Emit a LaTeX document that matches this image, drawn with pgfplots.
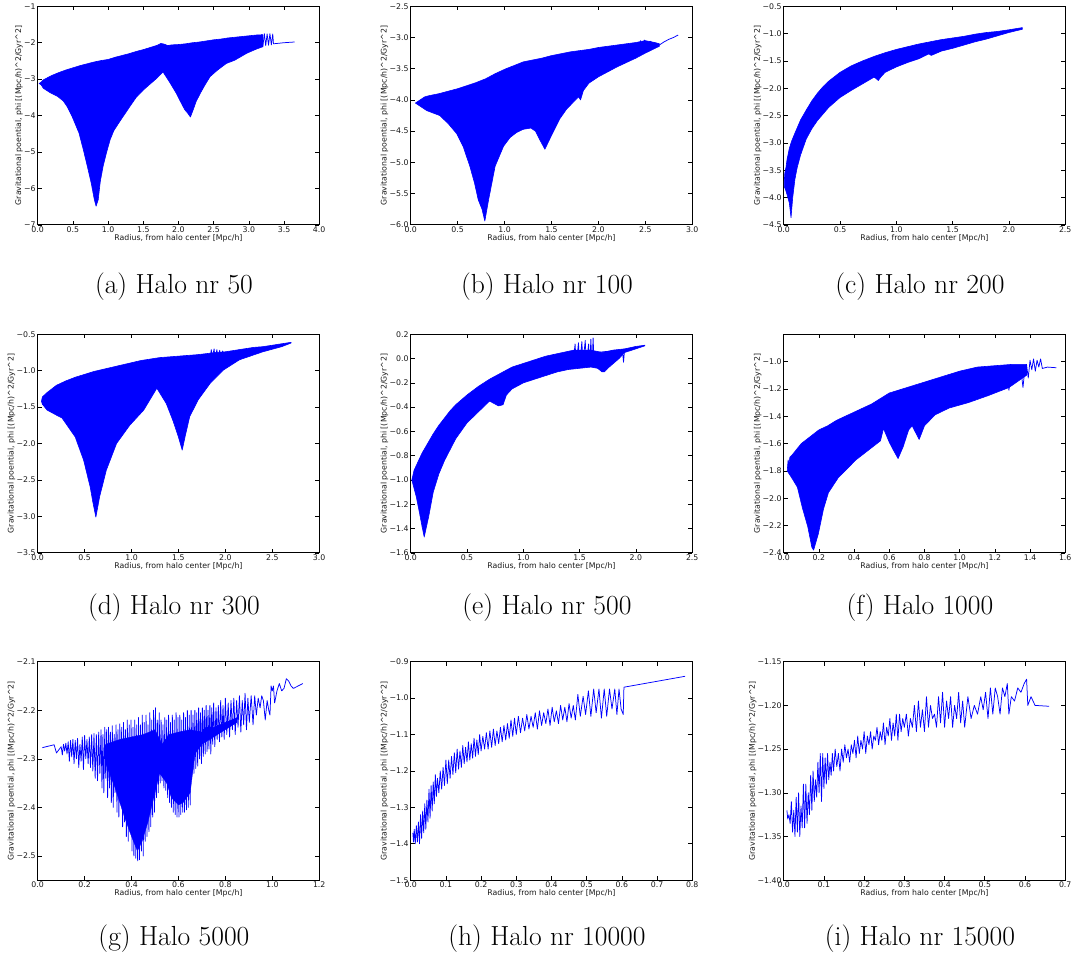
\documentclass[border=0pt]{standalone}
\usepackage{fontspec}
\usepackage{pgfplots}
\pgfplotsset{compat=1.18}
\newfontfamily\tickfont{DejaVu Sans}
\definecolor{mblue}{RGB}{0,0,255}
\pgfplotsset{
  mpl/.style={
    scale only axis, width=281.5pt, height=218.5pt,
    anchor=north west,
    axis line style={black, line width=0.8pt},
    tick align=inside, major tick length=4pt,
    every tick/.style={black, line width=0.6pt},
    ticklabel style={font=\tickfont\fontsize{7.8}{9}\selectfont, text=black!90},
    label style={font=\tickfont\fontsize{7.8}{9}\selectfont, text=black!90},
    xticklabel style={inner sep=1.5pt},
    yticklabel style={inner sep=2pt},
    xlabel={Radius, from halo center [Mpc/h]},
    ylabel={Gravitational poential, phi [(Mpc/h)\textasciicircum 2/Gyr\textasciicircum 2]},
    xlabel style={inner sep=0pt, yshift=0pt},
    ylabel style={inner sep=0pt, yshift=-1pt},
    clip=true,
  },
  fillband/.style={draw=mblue, fill=mblue, line width=0.6pt, line join=round},
  zig/.style={draw=mblue, line width=0.75pt, line join=round, no marks},
}
\newcommand{\capfont}{\fontsize{27.6}{33}\selectfont}
\begin{document}
\begin{tikzpicture}
\path[use as bounding box] (0pt,0pt) rectangle (1075pt,-960pt);

% ---------------- (a)
\begin{axis}[mpl, name=pa, at={(37.7pt,-6.3pt)},
  xmin=0, xmax=4, ymin=-7, ymax=-1,
  xtick={0,0.5,1,1.5,2,2.5,3,3.5,4}, xticklabels={0.0,0.5,1.0,1.5,2.0,2.5,3.0,3.5,4.0},
  ytick={-7,-6,-5,-4,-3,-2,-1}, yticklabels={−7,−6,−5,−4,−3,−2,−1}]
\addplot[fillband] coordinates {
(0.02,-3.12) (0.05,-3.08) (0.08,-3.02) (0.1,-3.0) (0.13,-2.97) (0.15,-2.95) (0.2,-2.9) (0.3,-2.82) (0.4,-2.75) (0.5,-2.69) (0.6,-2.63) (0.7,-2.58) (0.8,-2.53) (0.9,-2.49) (1.0,-2.46) (1.1,-2.4) (1.2,-2.35) (1.3,-2.3) (1.4,-2.24) (1.5,-2.19) (1.6,-2.13) (1.7,-2.07) (1.75,-2.02) (1.8,-2.04) (1.85,-2.08) (1.9,-2.06) (2.0,-2.05) (2.1,-2.03) (2.2,-2.0) (2.3,-1.98) (2.4,-1.95) (2.5,-1.92) (2.6,-1.9) (2.7,-1.87) (2.8,-1.85) (2.9,-1.83) (3.0,-1.81) (3.1,-1.79) (3.2,-1.78)
(3.2,-2.11) (3.1,-2.18) (2.97,-2.29) (2.8,-2.48) (2.68,-2.57) (2.55,-2.76) (2.45,-2.93) (2.38,-3.15) (2.31,-3.39) (2.25,-3.62) (2.21,-3.84) (2.17,-4.04) (2.13,-3.93) (2.09,-3.84) (2.03,-3.62) (1.97,-3.39) (1.88,-3.1) (1.78,-2.8) (1.69,-2.98) (1.6,-3.13) (1.5,-3.3) (1.4,-3.5) (1.31,-3.75) (1.23,-3.98) (1.15,-4.21) (1.08,-4.42) (1.03,-4.66) (0.98,-5.0) (0.93,-5.39) (0.89,-5.8) (0.86,-6.31) (0.83,-6.49) (0.805,-6.31) (0.76,-5.85) (0.705,-5.39) (0.65,-4.95) (0.587,-4.48) (0.49,-4.03) (0.42,-3.76) (0.364,-3.6) (0.28,-3.47) (0.175,-3.37) (0.08,-3.25) (0.05,-3.16) (0.02,-3.12)
} -- cycle;
\addplot[zig] coordinates {(3.15,-2.13) (3.18,-1.78) (3.2,-2.1) (3.22,-1.75) (3.24,-2.08) (3.26,-1.76) (3.28,-2.07) (3.30,-1.75) (3.32,-2.06) (3.34,-1.76) (3.35,-2.03) (3.4,-2.02) (3.5,-2.0) (3.65,-1.98)};
\end{axis}

% ---------------- (b)
\begin{axis}[mpl, name=pb, at={(410.7pt,-6.3pt)},
  xmin=0, xmax=3, ymin=-6, ymax=-2.5,
  xtick={0,0.5,1,1.5,2,2.5,3}, xticklabels={0.0,0.5,1.0,1.5,2.0,2.5,3.0},
  ytick={-6,-5.5,-5,-4.5,-4,-3.5,-3,-2.5}, yticklabels={−6.0,−5.5,−5.0,−4.5,−4.0,−3.5,−3.0,−2.5}]
\addplot[fillband] coordinates {
(0.05,-4.05) (0.1,-4.0) (0.15,-3.95) (0.2,-3.93) (0.3,-3.9) (0.4,-3.86) (0.5,-3.82) (0.6,-3.77) (0.7,-3.72) (0.8,-3.66) (0.9,-3.58) (1.0,-3.51) (1.1,-3.45) (1.2,-3.39) (1.3,-3.36) (1.4,-3.33) (1.5,-3.29) (1.6,-3.26) (1.7,-3.23) (1.8,-3.21) (1.9,-3.19) (2.0,-3.16) (2.1,-3.14) (2.2,-3.12) (2.3,-3.1) (2.4,-3.08) (2.5,-3.05) (2.6,-3.08) (2.65,-3.1)
(2.65,-3.14) (2.5,-3.25) (2.4,-3.33) (2.2,-3.47) (2.0,-3.63) (1.9,-3.73) (1.84,-3.85) (1.81,-4.0) (1.79,-3.95) (1.73,-4.04) (1.66,-4.15) (1.59,-4.3) (1.5,-4.57) (1.43,-4.79) (1.38,-4.65) (1.33,-4.5) (1.28,-4.45) (1.2,-4.47) (1.13,-4.52) (1.06,-4.6) (0.99,-4.74) (0.9,-5.06) (0.83,-5.6) (0.79,-5.94) (0.76,-5.75) (0.72,-5.6) (0.68,-5.33) (0.63,-5.06) (0.56,-4.75) (0.49,-4.54) (0.4,-4.38) (0.31,-4.25) (0.17,-4.17) (0.1,-4.1) (0.05,-4.05)
} -- cycle;
\addplot[zig] coordinates {(2.44,-3.2) (2.45,-3.05) (2.47,-3.22) (2.49,-3.04) (2.52,-3.2) (2.55,-3.06) (2.6,-3.1) (2.65,-3.12) (2.7,-3.07) (2.75,-3.03) (2.8,-3.0) (2.85,-2.96)};
\end{axis}

% ---------------- (c)
\begin{axis}[mpl, name=pc, at={(783.7pt,-6.3pt)},
  xmin=0, xmax=2.5, ymin=-4.5, ymax=-0.5,
  xtick={0,0.5,1,1.5,2,2.5}, xticklabels={0.0,0.5,1.0,1.5,2.0,2.5},
  ytick={-4.5,-4,-3.5,-3,-2.5,-2,-1.5,-1,-0.5}, yticklabels={−4.5,−4.0,−3.5,−3.0,−2.5,−2.0,−1.5,−1.0,−0.5}]
\addplot[fillband] coordinates {
(0.005,-3.7) (0.01,-3.55) (0.02,-3.45) (0.03,-3.3) (0.05,-3.1) (0.07,-2.97) (0.1,-2.82) (0.15,-2.58) (0.2,-2.4) (0.25,-2.23) (0.3,-2.09) (0.35,-1.97) (0.4,-1.87) (0.5,-1.71) (0.6,-1.59) (0.7,-1.5) (0.8,-1.42) (0.9,-1.35) (1.0,-1.29) (1.1,-1.24) (1.2,-1.19) (1.3,-1.15) (1.4,-1.11) (1.5,-1.08) (1.6,-1.05) (1.7,-1.01) (1.8,-0.98) (1.9,-0.96) (2.0,-0.93) (2.12,-0.89)
(2.12,-0.92) (2.0,-0.98) (1.9,-1.04) (1.8,-1.1) (1.7,-1.15) (1.6,-1.21) (1.5,-1.27) (1.4,-1.32) (1.31,-1.4) (1.29,-1.37) (1.2,-1.46) (1.1,-1.53) (1.0,-1.61) (0.9,-1.71) (0.86,-1.8) (0.84,-1.86) (0.82,-1.82) (0.8,-1.8) (0.7,-1.92) (0.6,-2.04) (0.5,-2.17) (0.4,-2.35) (0.3,-2.59) (0.25,-2.74) (0.2,-2.93) (0.15,-3.22) (0.12,-3.45) (0.1,-3.66) (0.08,-4.0) (0.065,-4.37) (0.05,-4.1) (0.03,-3.95) (0.015,-3.85) (0.005,-3.8)
} -- cycle;
\end{axis}

% ---------------- (d)
\begin{axis}[mpl, name=pd, at={(37.7pt,-334.3pt)},
  xmin=0, xmax=3, ymin=-3.5, ymax=-0.5,
  xtick={0,0.5,1,1.5,2,2.5,3}, xticklabels={0.0,0.5,1.0,1.5,2.0,2.5,3.0},
  ytick={-3.5,-3,-2.5,-2,-1.5,-1,-0.5}, yticklabels={−3.5,−3.0,−2.5,−2.0,−1.5,−1.0,−0.5}]
\addplot[fillband] coordinates {
(0.04,-1.42) (0.05,-1.36) (0.1,-1.3) (0.15,-1.25) (0.2,-1.2) (0.3,-1.14) (0.4,-1.09) (0.5,-1.05) (0.6,-1.01) (0.7,-0.98) (0.8,-0.95) (0.9,-0.92) (1.0,-0.89) (1.1,-0.86) (1.2,-0.84) (1.3,-0.82) (1.4,-0.81) (1.5,-0.8) (1.6,-0.79) (1.7,-0.78) (1.8,-0.765) (1.9,-0.75) (2.0,-0.74) (2.1,-0.72) (2.2,-0.7) (2.3,-0.68) (2.4,-0.67) (2.5,-0.65) (2.6,-0.63) (2.7,-0.61)
(2.7,-0.62) (2.6,-0.67) (2.4,-0.74) (2.15,-0.85) (1.98,-0.99) (1.84,-1.17) (1.71,-1.4) (1.62,-1.63) (1.57,-1.91) (1.54,-2.09) (1.5,-1.91) (1.44,-1.68) (1.37,-1.45) (1.27,-1.24) (1.2,-1.39) (1.13,-1.54) (0.98,-1.75) (0.84,-2.0) (0.73,-2.37) (0.66,-2.73) (0.62,-3.01) (0.59,-2.82) (0.56,-2.6) (0.49,-2.23) (0.4,-1.91) (0.26,-1.65) (0.2,-1.61) (0.1,-1.54) (0.05,-1.46) (0.04,-1.42)
} -- cycle;
\addplot[zig] coordinates {(1.84,-0.8) (1.85,-0.71) (1.86,-0.82) (1.88,-0.7) (1.89,-0.83) (1.91,-0.71) (1.92,-0.82) (1.94,-0.72) (1.95,-0.83) (1.97,-0.73) (1.99,-0.8)};
\end{axis}

% ---------------- (e)
\begin{axis}[mpl, name=pe, at={(410.7pt,-334.3pt)},
  xmin=0, xmax=2.5, ymin=-1.6, ymax=0.2,
  xtick={0,0.5,1,1.5,2,2.5}, xticklabels={0.0,0.5,1.0,1.5,2.0,2.5},
  ytick={-1.6,-1.4,-1.2,-1,-0.8,-0.6,-0.4,-0.2,0,0.2}, yticklabels={−1.6,−1.4,−1.2,−1.0,−0.8,−0.6,−0.4,−0.2,0.0,0.2}]
\addplot[fillband] coordinates {
(0.01,-1.0) (0.02,-0.96) (0.03,-0.92) (0.05,-0.88) (0.08,-0.82) (0.1,-0.78) (0.15,-0.7) (0.2,-0.62) (0.25,-0.55) (0.3,-0.49) (0.35,-0.43) (0.4,-0.38) (0.5,-0.3) (0.6,-0.23) (0.7,-0.17) (0.8,-0.12) (0.9,-0.07) (1.0,-0.04) (1.1,-0.01) (1.2,0.02) (1.3,0.04) (1.4,0.06) (1.45,0.07) (1.5,0.07) (1.55,0.07) (1.6,0.07) (1.65,0.06) (1.7,0.05) (1.8,0.07) (1.9,0.08) (2.0,0.1) (2.08,0.11)
(2.08,0.105) (2.0,0.08) (1.9,0.05) (1.85,0.0) (1.8,-0.04) (1.75,-0.08) (1.72,-0.11) (1.7,-0.11) (1.66,-0.08) (1.6,-0.07) (1.5,-0.08) (1.4,-0.09) (1.3,-0.11) (1.2,-0.14) (1.1,-0.17) (1.0,-0.2) (0.9,-0.25) (0.85,-0.3) (0.82,-0.38) (0.78,-0.39) (0.74,-0.37) (0.7,-0.35) (0.6,-0.44) (0.5,-0.53) (0.4,-0.66) (0.3,-0.84) (0.25,-0.95) (0.2,-1.1) (0.16,-1.3) (0.12,-1.47) (0.1,-1.38) (0.08,-1.28) (0.05,-1.14) (0.03,-1.07) (0.01,-1.0)
} -- cycle;
\addplot[zig] coordinates {(1.44,-0.05) (1.46,0.12) (1.47,-0.05) (1.49,0.13) (1.5,-0.06) (1.52,0.14) (1.53,-0.04) (1.55,0.15) (1.56,-0.05) (1.58,0.12) (1.59,-0.06) (1.6,0.16) (1.61,-0.06) (1.62,0.17) (1.63,-0.07) (1.64,0.05) (1.88,0.07) (1.89,-0.03) (1.9,0.08)};
\end{axis}

% ---------------- (f)
\begin{axis}[mpl, name=pf, at={(783.7pt,-334.3pt)},
  xmin=0, xmax=1.6, ymin=-2.4, ymax=-0.8,
  xtick={0,0.2,0.4,0.6,0.8,1,1.2,1.4,1.6}, xticklabels={0.0,0.2,0.4,0.6,0.8,1.0,1.2,1.4,1.6},
  ytick={-2.4,-2.2,-2,-1.8,-1.6,-1.4,-1.2,-1}, yticklabels={−2.4,−2.2,−2.0,−1.8,−1.6,−1.4,−1.2,−1.0}]
\addplot[fillband] coordinates {
(0.02,-1.8) (0.025,-1.72) (0.03,-1.75) (0.035,-1.7) (0.05,-1.68) (0.1,-1.6) (0.15,-1.55) (0.2,-1.5) (0.25,-1.47) (0.3,-1.43) (0.35,-1.4) (0.4,-1.37) (0.45,-1.34) (0.5,-1.31) (0.55,-1.27) (0.6,-1.23) (0.65,-1.21) (0.7,-1.19) (0.8,-1.15) (0.9,-1.11) (1.0,-1.07) (1.1,-1.04) (1.2,-1.03) (1.3,-1.02) (1.38,-1.02)
(1.38,-1.1) (1.28,-1.19) (1.16,-1.25) (1.05,-1.3) (0.94,-1.34) (0.86,-1.39) (0.8,-1.47) (0.77,-1.57) (0.75,-1.52) (0.73,-1.47) (0.71,-1.5) (0.68,-1.62) (0.65,-1.71) (0.62,-1.64) (0.6,-1.59) (0.567,-1.49) (0.55,-1.58) (0.5,-1.63) (0.41,-1.72) (0.31,-1.85) (0.254,-1.96) (0.226,-2.08) (0.197,-2.26) (0.17,-2.38) (0.16,-2.36) (0.137,-2.21) (0.106,-2.07) (0.078,-1.92) (0.05,-1.86) (0.03,-1.82) (0.02,-1.8)
} -- cycle;
\addplot[zig] coordinates {(1.19,-1.1) (1.2,-1.22) (1.21,-1.12) (1.27,-1.1) (1.28,-1.21) (1.29,-1.1) (1.35,-1.08) (1.36,-1.19) (1.37,-1.06) (1.38,-1.02) (1.39,-1.12) (1.4,-0.99) (1.41,-1.06) (1.42,-0.98) (1.43,-1.07) (1.44,-0.99) (1.45,-1.04) (1.46,-0.98) (1.47,-1.05) (1.5,-1.04) (1.55,-1.045)};
\end{axis}

% ---------------- (g)
\begin{axis}[mpl, name=pg, at={(37.7pt,-661.7pt)},
  xmin=0, xmax=1.2, ymin=-2.55, ymax=-2.1,
  xtick={0,0.2,0.4,0.6,0.8,1,1.2}, xticklabels={0.0,0.2,0.4,0.6,0.8,1.0,1.2},
  ytick={-2.5,-2.4,-2.3,-2.2,-2.1}, yticklabels={−2.5,−2.4,−2.3,−2.2,−2.1}]
\addplot[fillband, line width=0.3pt] coordinates {
(0.29,-2.27) (0.35,-2.26) (0.4,-2.255) (0.45,-2.25) (0.5,-2.24) (0.53,-2.27) (0.56,-2.25) (0.6,-2.245) (0.65,-2.24) (0.7,-2.245) (0.75,-2.235) (0.8,-2.225) (0.85,-2.215)
(0.85,-2.225) (0.8,-2.24) (0.75,-2.255) (0.7,-2.27) (0.67,-2.29) (0.65,-2.37) (0.62,-2.39) (0.6,-2.395) (0.57,-2.38) (0.55,-2.35) (0.52,-2.33) (0.5,-2.37) (0.47,-2.43) (0.445,-2.47) (0.425,-2.49) (0.4,-2.46) (0.37,-2.42) (0.33,-2.36) (0.29,-2.31)
} -- cycle;
\addplot[zig] coordinates {
(0.02,-2.277) (0.07,-2.271) (0.08,-2.288) (0.10,-2.275) (0.105,-2.292) (0.11,-2.27) (0.115,-2.284) (0.12,-2.268) (0.125,-2.29) (0.13,-2.265) (0.135,-2.305) (0.14,-2.262) (0.145,-2.296) (0.15,-2.26) (0.155,-2.31) (0.16,-2.262) (0.165,-2.30) (0.17,-2.258) (0.175,-2.318) (0.18,-2.27) (0.185,-2.305) (0.19,-2.255) (0.195,-2.322) (0.20,-2.252) (0.205,-2.30) (0.21,-2.26) (0.215,-2.31) (0.22,-2.255) (0.225,-2.318) (0.23,-2.25) (0.235,-2.325) (0.24,-2.248) (0.245,-2.34) (0.25,-2.25) (0.255,-2.345) (0.26,-2.245) (0.265,-2.33)
(0.27,-2.24) (0.274,-2.36) (0.278,-2.25) (0.282,-2.37) (0.286,-2.235) (0.29,-2.34) (0.294,-2.24) (0.298,-2.38) (0.302,-2.235) (0.306,-2.36) (0.31,-2.245) (0.314,-2.39) (0.318,-2.232) (0.322,-2.40) (0.326,-2.25) (0.33,-2.37) (0.334,-2.23) (0.338,-2.41) (0.342,-2.24) (0.346,-2.42) (0.35,-2.228) (0.354,-2.39) (0.358,-2.235) (0.362,-2.44) (0.366,-2.225) (0.37,-2.43) (0.374,-2.24) (0.378,-2.46) (0.382,-2.22) (0.386,-2.47) (0.39,-2.23) (0.394,-2.45) (0.398,-2.22) (0.402,-2.49) (0.406,-2.235) (0.41,-2.5) (0.414,-2.22) (0.418,-2.505) (0.422,-2.23) (0.426,-2.51) (0.43,-2.215) (0.434,-2.508) (0.438,-2.23) (0.442,-2.49) (0.446,-2.21) (0.45,-2.5) (0.454,-2.225) (0.458,-2.47) (0.462,-2.21) (0.466,-2.46) (0.47,-2.23) (0.474,-2.45) (0.478,-2.205) (0.482,-2.44) (0.486,-2.22) (0.49,-2.42) (0.494,-2.2) (0.498,-2.41) (0.502,-2.195) (0.506,-2.38) (0.51,-2.22) (0.514,-2.37) (0.518,-2.205) (0.522,-2.35) (0.526,-2.22) (0.53,-2.345) (0.534,-2.23) (0.538,-2.36) (0.542,-2.215) (0.546,-2.365) (0.55,-2.22) (0.554,-2.38) (0.558,-2.21) (0.562,-2.39) (0.566,-2.225) (0.57,-2.40) (0.574,-2.21) (0.578,-2.41) (0.582,-2.22) (0.586,-2.415) (0.59,-2.205) (0.594,-2.42) (0.598,-2.215) (0.602,-2.42) (0.606,-2.21) (0.61,-2.415) (0.614,-2.22) (0.618,-2.41) (0.622,-2.205) (0.626,-2.41) (0.63,-2.215) (0.634,-2.405) (0.638,-2.2) (0.642,-2.40) (0.646,-2.21) (0.65,-2.395) (0.654,-2.2) (0.658,-2.33) (0.662,-2.21) (0.666,-2.33) (0.67,-2.2) (0.674,-2.32) (0.678,-2.205) (0.682,-2.315) (0.686,-2.195) (0.69,-2.30) (0.694,-2.205) (0.698,-2.31) (0.702,-2.195) (0.706,-2.295) (0.71,-2.2) (0.714,-2.29) (0.718,-2.19) (0.722,-2.285) (0.726,-2.2) (0.73,-2.28) (0.734,-2.19) (0.738,-2.29) (0.742,-2.195) (0.746,-2.27) (0.75,-2.185) (0.755,-2.275) (0.76,-2.195) (0.765,-2.26) (0.77,-2.19) (0.775,-2.265) (0.78,-2.18) (0.785,-2.255) (0.79,-2.19) (0.795,-2.26) (0.80,-2.175) (0.806,-2.25) (0.812,-2.185) (0.818,-2.255) (0.824,-2.18) (0.83,-2.24) (0.836,-2.175) (0.842,-2.25) (0.848,-2.18) (0.854,-2.235) (0.86,-2.17) (0.866,-2.245) (0.872,-2.18) (0.878,-2.23) (0.884,-2.165) (0.89,-2.24) (0.896,-2.175) (0.902,-2.225)
(0.91,-2.17) (0.918,-2.23) (0.925,-2.17) (0.932,-2.21) (0.94,-2.175) (0.948,-2.195) (0.955,-2.17) (0.962,-2.18) (0.97,-2.22) (0.978,-2.18) (0.985,-2.20) (0.99,-2.21) (0.995,-2.15) (1.0,-2.16) (1.005,-2.15) (1.01,-2.185) (1.02,-2.16) (1.03,-2.145) (1.04,-2.16) (1.05,-2.155) (1.06,-2.135) (1.07,-2.14) (1.08,-2.15) (1.09,-2.155) (1.13,-2.145)
};
\end{axis}

% ---------------- (h)
\begin{axis}[mpl, name=ph, at={(410.7pt,-661.7pt)},
  xmin=0, xmax=0.8, ymin=-1.5, ymax=-0.9,
  xtick={0,0.1,0.2,0.3,0.4,0.5,0.6,0.7,0.8}, xticklabels={0.0,0.1,0.2,0.3,0.4,0.5,0.6,0.7,0.8},
  ytick={-1.5,-1.4,-1.3,-1.2,-1.1,-1,-0.9}, yticklabels={−1.5,−1.4,−1.3,−1.2,−1.1,−1.0,−0.9}]
\addplot[zig] coordinates {
(0.006,-1.37) (0.008,-1.395) (0.01,-1.36) (0.013,-1.40) (0.016,-1.35) (0.019,-1.395) (0.022,-1.34) (0.025,-1.40) (0.028,-1.32) (0.031,-1.385) (0.034,-1.31) (0.037,-1.37) (0.04,-1.29) (0.043,-1.36) (0.046,-1.28) (0.049,-1.34) (0.052,-1.25) (0.055,-1.33) (0.058,-1.24) (0.061,-1.31) (0.064,-1.23) (0.067,-1.29) (0.07,-1.21) (0.073,-1.27) (0.076,-1.22) (0.08,-1.26) (0.084,-1.20) (0.088,-1.25) (0.092,-1.19) (0.096,-1.24) (0.10,-1.17) (0.104,-1.235) (0.108,-1.17) (0.112,-1.22) (0.116,-1.16) (0.12,-1.21) (0.124,-1.15) (0.128,-1.205) (0.132,-1.14) (0.136,-1.195) (0.14,-1.145) (0.144,-1.19) (0.148,-1.13) (0.152,-1.18) (0.156,-1.135) (0.16,-1.175) (0.164,-1.12) (0.168,-1.17) (0.172,-1.125) (0.176,-1.165) (0.18,-1.11) (0.184,-1.16) (0.188,-1.115) (0.192,-1.155) (0.196,-1.10) (0.20,-1.145) (0.205,-1.105) (0.21,-1.14) (0.215,-1.095) (0.22,-1.14) (0.225,-1.09) (0.23,-1.135) (0.235,-1.085) (0.24,-1.13) (0.245,-1.09) (0.25,-1.125) (0.255,-1.08) (0.26,-1.12) (0.265,-1.075) (0.27,-1.115) (0.275,-1.07) (0.28,-1.11) (0.285,-1.06) (0.29,-1.105) (0.295,-1.055) (0.30,-1.10) (0.306,-1.05) (0.312,-1.095) (0.318,-1.055) (0.324,-1.09) (0.33,-1.045) (0.336,-1.085) (0.342,-1.05) (0.348,-1.08) (0.354,-1.04) (0.36,-1.085) (0.366,-1.035) (0.372,-1.075) (0.378,-1.04) (0.384,-1.07) (0.39,-1.03) (0.396,-1.075) (0.402,-1.025) (0.408,-1.065) (0.414,-1.035) (0.42,-1.07) (0.426,-1.02) (0.432,-1.06) (0.438,-1.025) (0.444,-1.065) (0.45,-1.015) (0.456,-1.055) (0.462,-1.02) (0.468,-1.06) (0.475,-0.99) (0.482,-1.05) (0.49,-0.995) (0.497,-1.045) (0.505,-0.98) (0.512,-1.05) (0.52,-0.975) (0.527,-1.04) (0.535,-0.975) (0.542,-1.055) (0.55,-0.975) (0.557,-1.05) (0.565,-0.975) (0.572,-1.03) (0.58,-0.975) (0.586,-1.045) (0.592,-0.975) (0.598,-1.03) (0.604,-1.045) (0.606,-0.97) (0.78,-0.94)
};
\end{axis}

% ---------------- (i)
\begin{axis}[mpl, name=pi, at={(783.7pt,-661.7pt)},
  xmin=0, xmax=0.7, ymin=-1.4, ymax=-1.15,
  xtick={0,0.1,0.2,0.3,0.4,0.5,0.6,0.7}, xticklabels={0.0,0.1,0.2,0.3,0.4,0.5,0.6,0.7},
  ytick={-1.4,-1.35,-1.3,-1.25,-1.2,-1.15}, yticklabels={−1.40,−1.35,−1.30,−1.25,−1.20,−1.15}]
\addplot[zig] coordinates {
(0.008,-1.32) (0.01,-1.33) (0.013,-1.325) (0.016,-1.335) (0.019,-1.31) (0.022,-1.345) (0.025,-1.32) (0.028,-1.35) (0.031,-1.305) (0.034,-1.345) (0.037,-1.30) (0.040,-1.35) (0.043,-1.315) (0.046,-1.34) (0.049,-1.29) (0.052,-1.34) (0.055,-1.29) (0.058,-1.335) (0.061,-1.30) (0.064,-1.325) (0.067,-1.28) (0.07,-1.32) (0.073,-1.275) (0.076,-1.31) (0.079,-1.285) (0.082,-1.305) (0.085,-1.265) (0.088,-1.30) (0.091,-1.255) (0.094,-1.31) (0.097,-1.255) (0.10,-1.295) (0.103,-1.26) (0.106,-1.29) (0.109,-1.255) (0.112,-1.285) (0.115,-1.265) (0.118,-1.28) (0.121,-1.255) (0.124,-1.275) (0.128,-1.25) (0.132,-1.27) (0.136,-1.255) (0.14,-1.275) (0.144,-1.25) (0.148,-1.265) (0.152,-1.245) (0.156,-1.26) (0.16,-1.25) (0.164,-1.265) (0.168,-1.245) (0.172,-1.255) (0.176,-1.24) (0.18,-1.26) (0.184,-1.235) (0.188,-1.255) (0.192,-1.24) (0.196,-1.25) (0.20,-1.23) (0.204,-1.255) (0.208,-1.235) (0.212,-1.245) (0.216,-1.23) (0.22,-1.25) (0.224,-1.235) (0.228,-1.24) (0.232,-1.225) (0.236,-1.245) (0.24,-1.23) (0.244,-1.24) (0.248,-1.22) (0.252,-1.245) (0.256,-1.225) (0.26,-1.235) (0.264,-1.215) (0.268,-1.24) (0.272,-1.22) (0.276,-1.235) (0.28,-1.21) (0.284,-1.24) (0.288,-1.21) (0.292,-1.23) (0.296,-1.215) (0.30,-1.225) (0.305,-1.21) (0.31,-1.235) (0.315,-1.215) (0.32,-1.225) (0.325,-1.2) (0.33,-1.23) (0.335,-1.195) (0.34,-1.225) (0.345,-1.205) (0.35,-1.23) (0.355,-1.19) (0.36,-1.225) (0.365,-1.2) (0.37,-1.215) (0.375,-1.21) (0.38,-1.225) (0.385,-1.19) (0.39,-1.22) (0.395,-1.185) (0.40,-1.225) (0.405,-1.195) (0.41,-1.215) (0.415,-1.19) (0.42,-1.225) (0.425,-1.2) (0.43,-1.215) (0.435,-1.185) (0.44,-1.22) (0.445,-1.195) (0.45,-1.225) (0.458,-1.19) (0.466,-1.215) (0.474,-1.2) (0.482,-1.21) (0.49,-1.19) (0.496,-1.205) (0.502,-1.185) (0.508,-1.215) (0.514,-1.18) (0.52,-1.21) (0.526,-1.18) (0.532,-1.19) (0.538,-1.21) (0.544,-1.18) (0.55,-1.19) (0.556,-1.175) (0.56,-1.21) (0.566,-1.19) (0.574,-1.195) (0.582,-1.18) (0.59,-1.185) (0.598,-1.175) (0.604,-1.17) (0.607,-1.20) (0.615,-1.19) (0.625,-1.20) (0.66,-1.201)
};
\end{axis}

% captions
\node[anchor=base, font=\capfont] at ([xshift=-4.5pt, yshift=-69pt]pa.south) {(a) Halo nr 50};
\node[anchor=base, font=\capfont] at ([xshift=-4.5pt, yshift=-69pt]pb.south) {(b) Halo nr 100};
\node[anchor=base, font=\capfont] at ([xshift=-4.5pt, yshift=-69pt]pc.south) {(c) Halo nr 200};
\node[anchor=base, font=\capfont] at ([xshift=-4.5pt, yshift=-62pt]pd.south) {(d) Halo nr 300};
\node[anchor=base, font=\capfont] at ([xshift=-4.5pt, yshift=-62pt]pe.south) {(e) Halo nr 500};
\node[anchor=base, font=\capfont] at ([xshift=-4.5pt, yshift=-62pt]pf.south) {(f) Halo 1000};
\node[anchor=base, font=\capfont] at ([xshift=-4.5pt, yshift=-65pt]pg.south) {(g) Halo 5000};
\node[anchor=base, font=\capfont] at ([xshift=-4.5pt, yshift=-65pt]ph.south) {(h) Halo nr 10000};
\node[anchor=base, font=\capfont] at ([xshift=-4.5pt, yshift=-65pt]pi.south) {(i) Halo nr 15000};
\end{tikzpicture}
\end{document}
